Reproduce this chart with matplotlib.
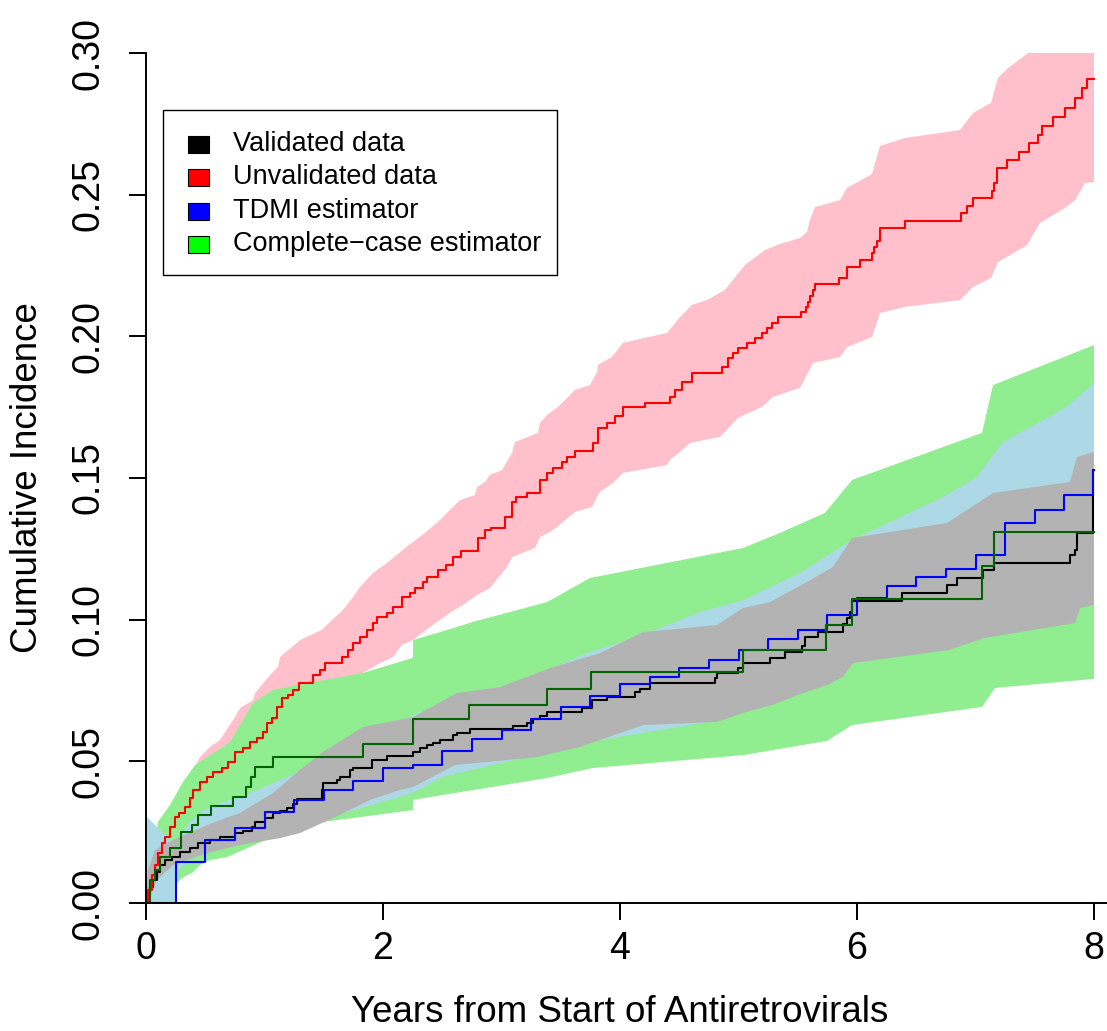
import numpy as np
import matplotlib
matplotlib.use("Agg")
import matplotlib.pyplot as plt
from matplotlib.patches import Rectangle

plt.rcParams['font.family'] = ['Liberation Sans', 'DejaVu Sans']

# ---------------- data ----------------
# Unvalidated data (red step curve)
red_t = [0, 0.017, 0.051, 0.076, 0.101, 0.135, 0.160, 0.203, 0.245, 0.278, 0.329, 0.371, 0.397,
         0.456, 0.515, 0.565, 0.641, 0.692, 0.751, 0.819, 0.878, 0.937, 0.987, 1.021, 1.063, 1.105,
         1.148, 1.198, 1.241, 1.291, 1.409, 1.468, 1.511, 1.654, 1.705, 1.747, 1.806, 1.865, 1.916,
         1.949, 2.034, 2.084, 2.160, 2.228, 2.270, 2.338, 2.371, 2.464, 2.532, 2.591, 2.658, 2.802,
         2.861, 2.911, 3.030, 3.089, 3.122, 3.215, 3.325, 3.384, 3.435, 3.511, 3.553, 3.620, 3.772,
         3.814, 3.890, 3.958, 4.025, 4.211, 4.422, 4.464, 4.523, 4.608, 4.861, 4.911, 4.954, 4.996,
         5.072, 5.139, 5.198, 5.241, 5.283, 5.333, 5.527, 5.570, 5.586, 5.603, 5.629, 5.646, 5.848,
         5.916, 6.025, 6.127, 6.143, 6.169, 6.194, 6.405, 6.878, 6.928, 6.979, 7.139, 7.156, 7.181,
         7.266, 7.367, 7.451, 7.527, 7.561, 7.654, 7.755, 7.840, 7.899, 7.941]
red_v = [0, 0.0046, 0.0099, 0.0134, 0.0176, 0.0212, 0.0233, 0.0268, 0.0304, 0.0318, 0.0339, 0.0371,
         0.0399, 0.0427, 0.0445, 0.0462, 0.0476, 0.0498, 0.0533, 0.0547, 0.0568, 0.0582, 0.0604,
         0.0635, 0.0653, 0.0692, 0.0724, 0.0734, 0.0752, 0.0776, 0.0805, 0.0822, 0.0847, 0.0868,
         0.0893, 0.0918, 0.0939, 0.0964, 0.0988, 0.1009, 0.1024, 0.1045, 0.1080, 0.1094, 0.1112,
         0.1133, 0.1151, 0.1175, 0.1193, 0.1221, 0.1242, 0.1288, 0.1316, 0.1324, 0.1362, 0.1415,
         0.1433, 0.1447, 0.1493, 0.1518, 0.1535, 0.1557, 0.1574, 0.1595, 0.1624, 0.1677, 0.1694,
         0.1719, 0.1751, 0.1765, 0.1786, 0.1811, 0.1839, 0.1871, 0.1892, 0.1924, 0.1941, 0.1959,
         0.1976, 0.1994, 0.2012, 0.2029, 0.2047, 0.2068, 0.2086, 0.2104, 0.2121, 0.2142, 0.2164,
         0.2185, 0.2206, 0.2245, 0.2269, 0.2294, 0.2315, 0.2337, 0.2382, 0.2407, 0.2435, 0.2460,
         0.2488, 0.2513, 0.2541, 0.2594, 0.2622, 0.2651, 0.2682, 0.2711, 0.2742, 0.2774, 0.2806,
         0.2841, 0.2877, 0.2908]

# Pink confidence band (unvalidated)
pink_up_t = [0, 0.017, 0.076, 0.160, 0.228, 0.304, 0.388, 0.456, 0.540, 0.624, 0.751, 0.793, 0.903,
             0.920, 1.063, 1.114, 1.131, 1.300, 1.485, 1.553, 1.662, 1.747, 1.806, 1.916, 2.034,
             2.186, 2.354, 2.481, 2.591, 2.650, 2.776, 2.793, 2.861, 2.903, 3.004, 3.089, 3.114,
             3.308, 3.325, 3.384, 3.477, 3.553, 3.620, 3.747, 3.806, 3.814, 3.932, 4.025, 4.397,
             4.506, 4.608, 4.734, 4.886, 5.055, 5.224, 5.350, 5.519, 5.578, 5.603, 5.646, 5.857,
             5.916, 6.127, 6.194, 6.405, 6.869, 6.979, 7.131, 7.190, 7.266, 7.435, 7.600, 8.0]
pink_up_v = [0, 0.0064, 0.0169, 0.0275, 0.0328, 0.0399, 0.0459, 0.0515, 0.0551, 0.0575, 0.0656,
             0.0688, 0.0716, 0.0741, 0.0812, 0.0833, 0.0868, 0.0928, 0.0964, 0.0992, 0.1034,
             0.1080, 0.1115, 0.1165, 0.1200, 0.1253, 0.1306, 0.1352, 0.1398, 0.1422, 0.1440,
             0.1468, 0.1486, 0.1511, 0.1528, 0.1588, 0.1627, 0.1659, 0.1694, 0.1722, 0.1751,
             0.1782, 0.1811, 0.1828, 0.1874, 0.1899, 0.1927, 0.1977, 0.2012, 0.2068, 0.2111,
             0.2128, 0.2164, 0.2252, 0.2305, 0.2326, 0.2347, 0.2368, 0.2411, 0.2456, 0.2481,
             0.2524, 0.2573, 0.2672, 0.2700, 0.2728, 0.2788, 0.2824, 0.2912, 0.2944, 0.2997,
             0.3050, 0.3150]
pink_lo_t = [0, 0.076, 0.203, 0.371, 0.540, 0.751, 0.962, 1.215, 1.468, 1.679, 1.831, 1.975, 2.084,
             2.160, 2.253, 2.338, 2.456, 2.565, 2.675, 2.793, 2.903, 3.046, 3.089, 3.283, 3.325,
             3.409, 3.468, 3.620, 3.764, 3.806, 3.831, 3.941, 4.025, 4.397, 4.422, 4.506, 4.591,
             4.844, 4.996, 5.198, 5.291, 5.519, 5.629, 5.857, 5.916, 6.127, 6.194, 6.405, 6.869,
             6.979, 7.131, 7.190, 7.435, 7.544, 7.755, 7.840, 7.924, 8.0]
pink_lo_v = [0, 0.0035, 0.0099, 0.0187, 0.0265, 0.0346, 0.0416, 0.0522, 0.0646, 0.0752, 0.0812,
             0.0847, 0.0868, 0.0911, 0.0928, 0.0956, 0.0992, 0.1024, 0.1052, 0.1087, 0.1112,
             0.1186, 0.1221, 0.1253, 0.1292, 0.1309, 0.1327, 0.1380, 0.1398, 0.1433, 0.1451,
             0.1482, 0.1518, 0.1546, 0.1564, 0.1592, 0.1624, 0.1645, 0.1712, 0.1751, 0.1786,
             0.1818, 0.1906, 0.1927, 0.1962, 0.1998, 0.2082, 0.2104, 0.2128, 0.2174, 0.2206,
             0.2262, 0.2322, 0.2400, 0.2453, 0.2481, 0.2541, 0.2545]

# Light green band (complete-case)
lgreen_up_t = [0, 0.101, 0.203, 0.312, 0.414, 0.582, 0.709, 0.903, 1.072, 1.274, 1.831, 2.253,
               2.253, 2.481, 2.759, 3.384, 3.747, 5.038, 5.350, 5.730, 5.958, 7.055, 7.148, 8.0]
lgreen_up_v = [0, 0.0286, 0.0346, 0.0427, 0.0487, 0.0533, 0.0568, 0.0706, 0.0752, 0.0769, 0.0812,
               0.0865, 0.0928, 0.0956, 0.0992, 0.1062, 0.1147, 0.1253, 0.1306, 0.1377, 0.1493,
               0.1659, 0.1828, 0.1969]
lgreen_lo_t = [0, 0.203, 0.245, 0.304, 0.397, 0.456, 0.540, 0.684, 1.046, 1.494, 2.253, 2.253,
               3.384, 3.764, 5.038, 5.747, 5.958, 7.055, 7.165, 8.0]
lgreen_lo_v = [0, 0, 0.0064, 0.0088, 0.0109, 0.0134, 0.0152, 0.0162, 0.0229, 0.0286, 0.0328,
               0.0364, 0.0441, 0.0476, 0.0522, 0.0572, 0.0628, 0.0692, 0.0759, 0.0791]

# Light blue band (TDMI)
lblue_up_t = [0, 0.118, 0.245, 0.371, 0.515, 0.878, 1.232, 1.494, 2.312, 3.046, 3.384, 3.747,
              4.169, 4.675, 5.038, 5.519, 5.958, 6.759, 7.013, 7.232, 7.755, 8.0]
lblue_up_v = [0.0307, 0.0258, 0.0205, 0.0286, 0.0335, 0.0388, 0.0452, 0.0508, 0.0674, 0.0762,
              0.0822, 0.0886, 0.0942, 0.1027, 0.1069, 0.1165, 0.1281, 0.1440, 0.1504, 0.1627,
              0.1747, 0.1835]
lblue_lo_t = [0, 0.245, 0.270, 0.456, 0.878, 1.527, 2.253, 2.506, 3.384, 3.831, 4.844, 5.958, 8.0]
lblue_lo_v = [0, 0, 0.0116, 0.0187, 0.0258, 0.0300, 0.0388, 0.0445, 0.0533, 0.0575, 0.0646,
              0.0851, 0.1070]

# Gray band (validated)
gray_up_t = [0, 0.017, 0.076, 0.228, 0.515, 0.793, 1.072, 1.300, 1.494, 1.831, 2.253, 2.624,
             2.987, 3.409, 3.831, 4.194, 4.819, 5.038, 5.266, 5.578, 5.797, 5.958, 6.759, 7.148,
             7.797, 7.857, 8.0]
gray_up_v = [0, 0.0116, 0.0187, 0.0222, 0.0275, 0.0318, 0.0388, 0.0470, 0.0533, 0.0621, 0.0656,
             0.0741, 0.0762, 0.0829, 0.0882, 0.0956, 0.0981, 0.1041, 0.1062, 0.1133, 0.1186,
             0.1288, 0.1341, 0.1447, 0.1486, 0.1574, 0.1592]
gray_lo_t = [0, 0.034, 0.093, 0.228, 0.515, 0.793, 1.131, 1.300, 1.637, 1.890, 2.143, 2.253,
             2.608, 3.300, 3.662, 3.831, 4.194, 4.819, 5.038, 5.283, 5.544, 5.747, 5.882, 5.966,
             6.776, 7.072, 7.840, 7.882, 8.0]
gray_lo_v = [0, 0.0028, 0.0081, 0.0134, 0.0176, 0.0205, 0.0229, 0.0247, 0.0311, 0.0364, 0.0399,
             0.0409, 0.0487, 0.0515, 0.0551, 0.0575, 0.0628, 0.0639, 0.0671, 0.0699, 0.0741,
             0.0769, 0.0798, 0.0847, 0.0893, 0.0935, 0.0988, 0.1041, 0.1052]

# Validated data (black step curve)
black_t = [0, 0.017, 0.034, 0.059, 0.093, 0.118, 0.160, 0.219, 0.287, 0.371, 0.439, 0.540, 0.624,
           0.751, 0.819, 0.895, 0.920, 1.004, 1.072, 1.131, 1.190, 1.241, 1.274, 1.485, 1.494,
           1.612, 1.637, 1.722, 1.747, 1.907, 2.034, 2.253, 2.312, 2.371, 2.422, 2.481, 2.591,
           2.624, 2.734, 3.097, 3.215, 3.266, 3.325, 3.384, 3.679, 3.764, 3.890, 4.127, 4.169,
           4.253, 4.802, 4.819, 4.996, 5.038, 5.266, 5.392, 5.536, 5.561, 5.671, 5.882, 5.916,
           5.941, 5.958, 6.380, 6.759, 6.844, 7.063, 7.156, 7.797, 7.840, 7.857, 7.990]
black_v = [0, 0.0028, 0.0056, 0.0081, 0.0109, 0.0134, 0.0152, 0.0162, 0.0180, 0.0194, 0.0212,
           0.0222, 0.0233, 0.0247, 0.0254, 0.0268, 0.0286, 0.0300, 0.0318, 0.0325, 0.0335,
           0.0349, 0.0367, 0.0399, 0.0424, 0.0434, 0.0445, 0.0469, 0.0476, 0.0505, 0.0519,
           0.0533, 0.0547, 0.0558, 0.0565, 0.0575, 0.0593, 0.0600, 0.0614, 0.0625, 0.0635,
           0.0649, 0.0660, 0.0674, 0.0688, 0.0716, 0.0727, 0.0745, 0.0755, 0.0776, 0.0794,
           0.0812, 0.0829, 0.0847, 0.0865, 0.0886, 0.0907, 0.0939, 0.0956, 0.0985, 0.1006,
           0.1027, 0.1066, 0.1094, 0.1122, 0.1147, 0.1175, 0.1200, 0.1228, 0.1246, 0.1306,
           0.1528]

# TDMI estimator (blue step curve)
blue_t = [0, 0.25, 0.5, 0.75, 1.0, 1.25, 1.5, 1.75, 2.0, 2.25, 2.5, 2.75, 3.0, 3.25, 3.5, 3.75,
          4.0, 4.25, 4.5, 4.75, 5.0, 5.25, 5.5, 5.75, 6.0, 6.25, 6.5, 6.75, 7.0, 7.25, 7.5, 7.75,
          7.995]
blue_v = [0, 0.0145, 0.0224, 0.0265, 0.0320, 0.0362, 0.0399, 0.0431, 0.0476, 0.0487, 0.0536,
          0.0579, 0.0611, 0.0649, 0.0692, 0.0731, 0.0773, 0.0798, 0.0829, 0.0858, 0.0893,
          0.0932, 0.0964, 0.1016, 0.1076, 0.1119, 0.1151, 0.1179, 0.1228, 0.1341, 0.1387,
          0.1440, 0.1528]

# Complete-case estimator (dark green step curve)
dgreen_t = [0, 0.034, 0.080, 0.118, 0.203, 0.295, 0.388, 0.439, 0.549, 0.734, 0.844, 0.886,
            0.920, 1.072, 1.831, 2.253, 2.726, 3.384, 3.755, 5.038, 5.738, 5.958, 7.055, 7.156]
dgreen_v = [0, 0.0081, 0.0116, 0.0162, 0.0194, 0.0251, 0.0275, 0.0311, 0.0342, 0.0374, 0.0409,
            0.0445, 0.0480, 0.0515, 0.0561, 0.0649, 0.0699, 0.0755, 0.0815, 0.0893, 0.0981,
            0.1073, 0.1189, 0.1309]

t_end = 8.0
x_ticks = [0, 2, 4, 6, 8]
y_ticks = [0.00, 0.05, 0.10, 0.15, 0.20, 0.25, 0.30]
y_tick_labels = ["0.00", "0.05", "0.10", "0.15", "0.20", "0.25", "0.30"]
legend_labels = ["Validated data", "Unvalidated data", "TDMI estimator", "Complete\u2212case estimator"]
legend_colors = ["#000000", "#FF0000", "#0000FF", "#00FF00"]
x_label = "Years from Start of Antiretrovirals"
y_label = "Cumulative Incidence"

# ---------------- figure ----------------
W, H = 1107, 1031
fig = plt.figure(figsize=(W / 100, H / 100), dpi=100)
ax = fig.add_axes([146 / W, 128 / H, 961 / W, 850 / H])
ax.set_xlim(0, 961 / 118.5)
ax.set_ylim(0, 0.30)


def band(ut, uv, lt, lv, color):
    xs = np.concatenate([ut, lt[::-1]])
    ys = np.concatenate([uv, lv[::-1]])
    ax.fill(xs, ys, color=color, lw=0, zorder=1)


band(np.array(pink_up_t), np.array(pink_up_v), np.array(pink_lo_t), np.array(pink_lo_v), "#FFC0CB")
band(np.array(lgreen_up_t), np.array(lgreen_up_v), np.array(lgreen_lo_t), np.array(lgreen_lo_v), "#90EE90")
band(np.array(lblue_up_t), np.array(lblue_up_v), np.array(lblue_lo_t), np.array(lblue_lo_v), "#ADD8E6")
band(np.array(gray_up_t), np.array(gray_up_v), np.array(gray_lo_t), np.array(gray_lo_v), "#B3B3B3")


def stepline(t, v, color):
    tt = np.append(t, t_end)
    vv = np.append(v, v[-1])
    ax.step(tt, vv, where="post", color=color, lw=1.5, zorder=3)


stepline(black_t, black_v, "#000000")
stepline(red_t, red_v, "#FF0000")
stepline(blue_t, blue_v, "#0000FF")
stepline(dgreen_t, dgreen_v, "#006400")

for s in ["top", "right"]:
    ax.spines[s].set_visible(False)
ax.spines["left"].set_bounds(0, 0.30)
ax.spines["left"].set_linewidth(1.4)
ax.spines["bottom"].set_linewidth(1.4)
ax.spines["left"].set_zorder(5)
ax.spines["bottom"].set_zorder(5)

ax.set_xticks(x_ticks)
ax.set_xticklabels([str(v) for v in x_ticks])
ax.set_yticks(y_ticks)
ax.set_yticklabels(y_tick_labels, rotation=90, va="center")
ax.tick_params(axis="both", direction="out", length=12.3, width=1.4, labelsize=27)
ax.tick_params(axis="x", pad=8)
ax.tick_params(axis="y", pad=16)

fig.text(620 / W, 1 - 1013 / H, x_label, ha="center", va="center", fontsize=26.5)
fig.text(28 / W, 1 - 478 / H, y_label, ha="center", va="center", rotation=90, fontsize=26.5)

# legend drawn in figure pixel layout
def fx(px):
    return px / W


def fy(py):
    return 1 - py / H


fig.add_artist(Rectangle((fx(163), fy(275)), 394 / W, 165 / H, transform=fig.transFigure,
                         facecolor="white", edgecolor="black", lw=1.0, zorder=10))
rows = [144, 177, 211, 244]
for lab, col, ry in zip(legend_labels, legend_colors, rows):
    fig.add_artist(Rectangle((fx(188), fy(ry + 8.5)), 21 / W, 17 / H, transform=fig.transFigure,
                             facecolor=col, edgecolor="black", lw=0.8, zorder=11))
    fig.text(fx(233), fy(ry), lab, ha="left", va="center", fontsize=19.5, zorder=11)

fig.savefig("out.png", dpi=100)
